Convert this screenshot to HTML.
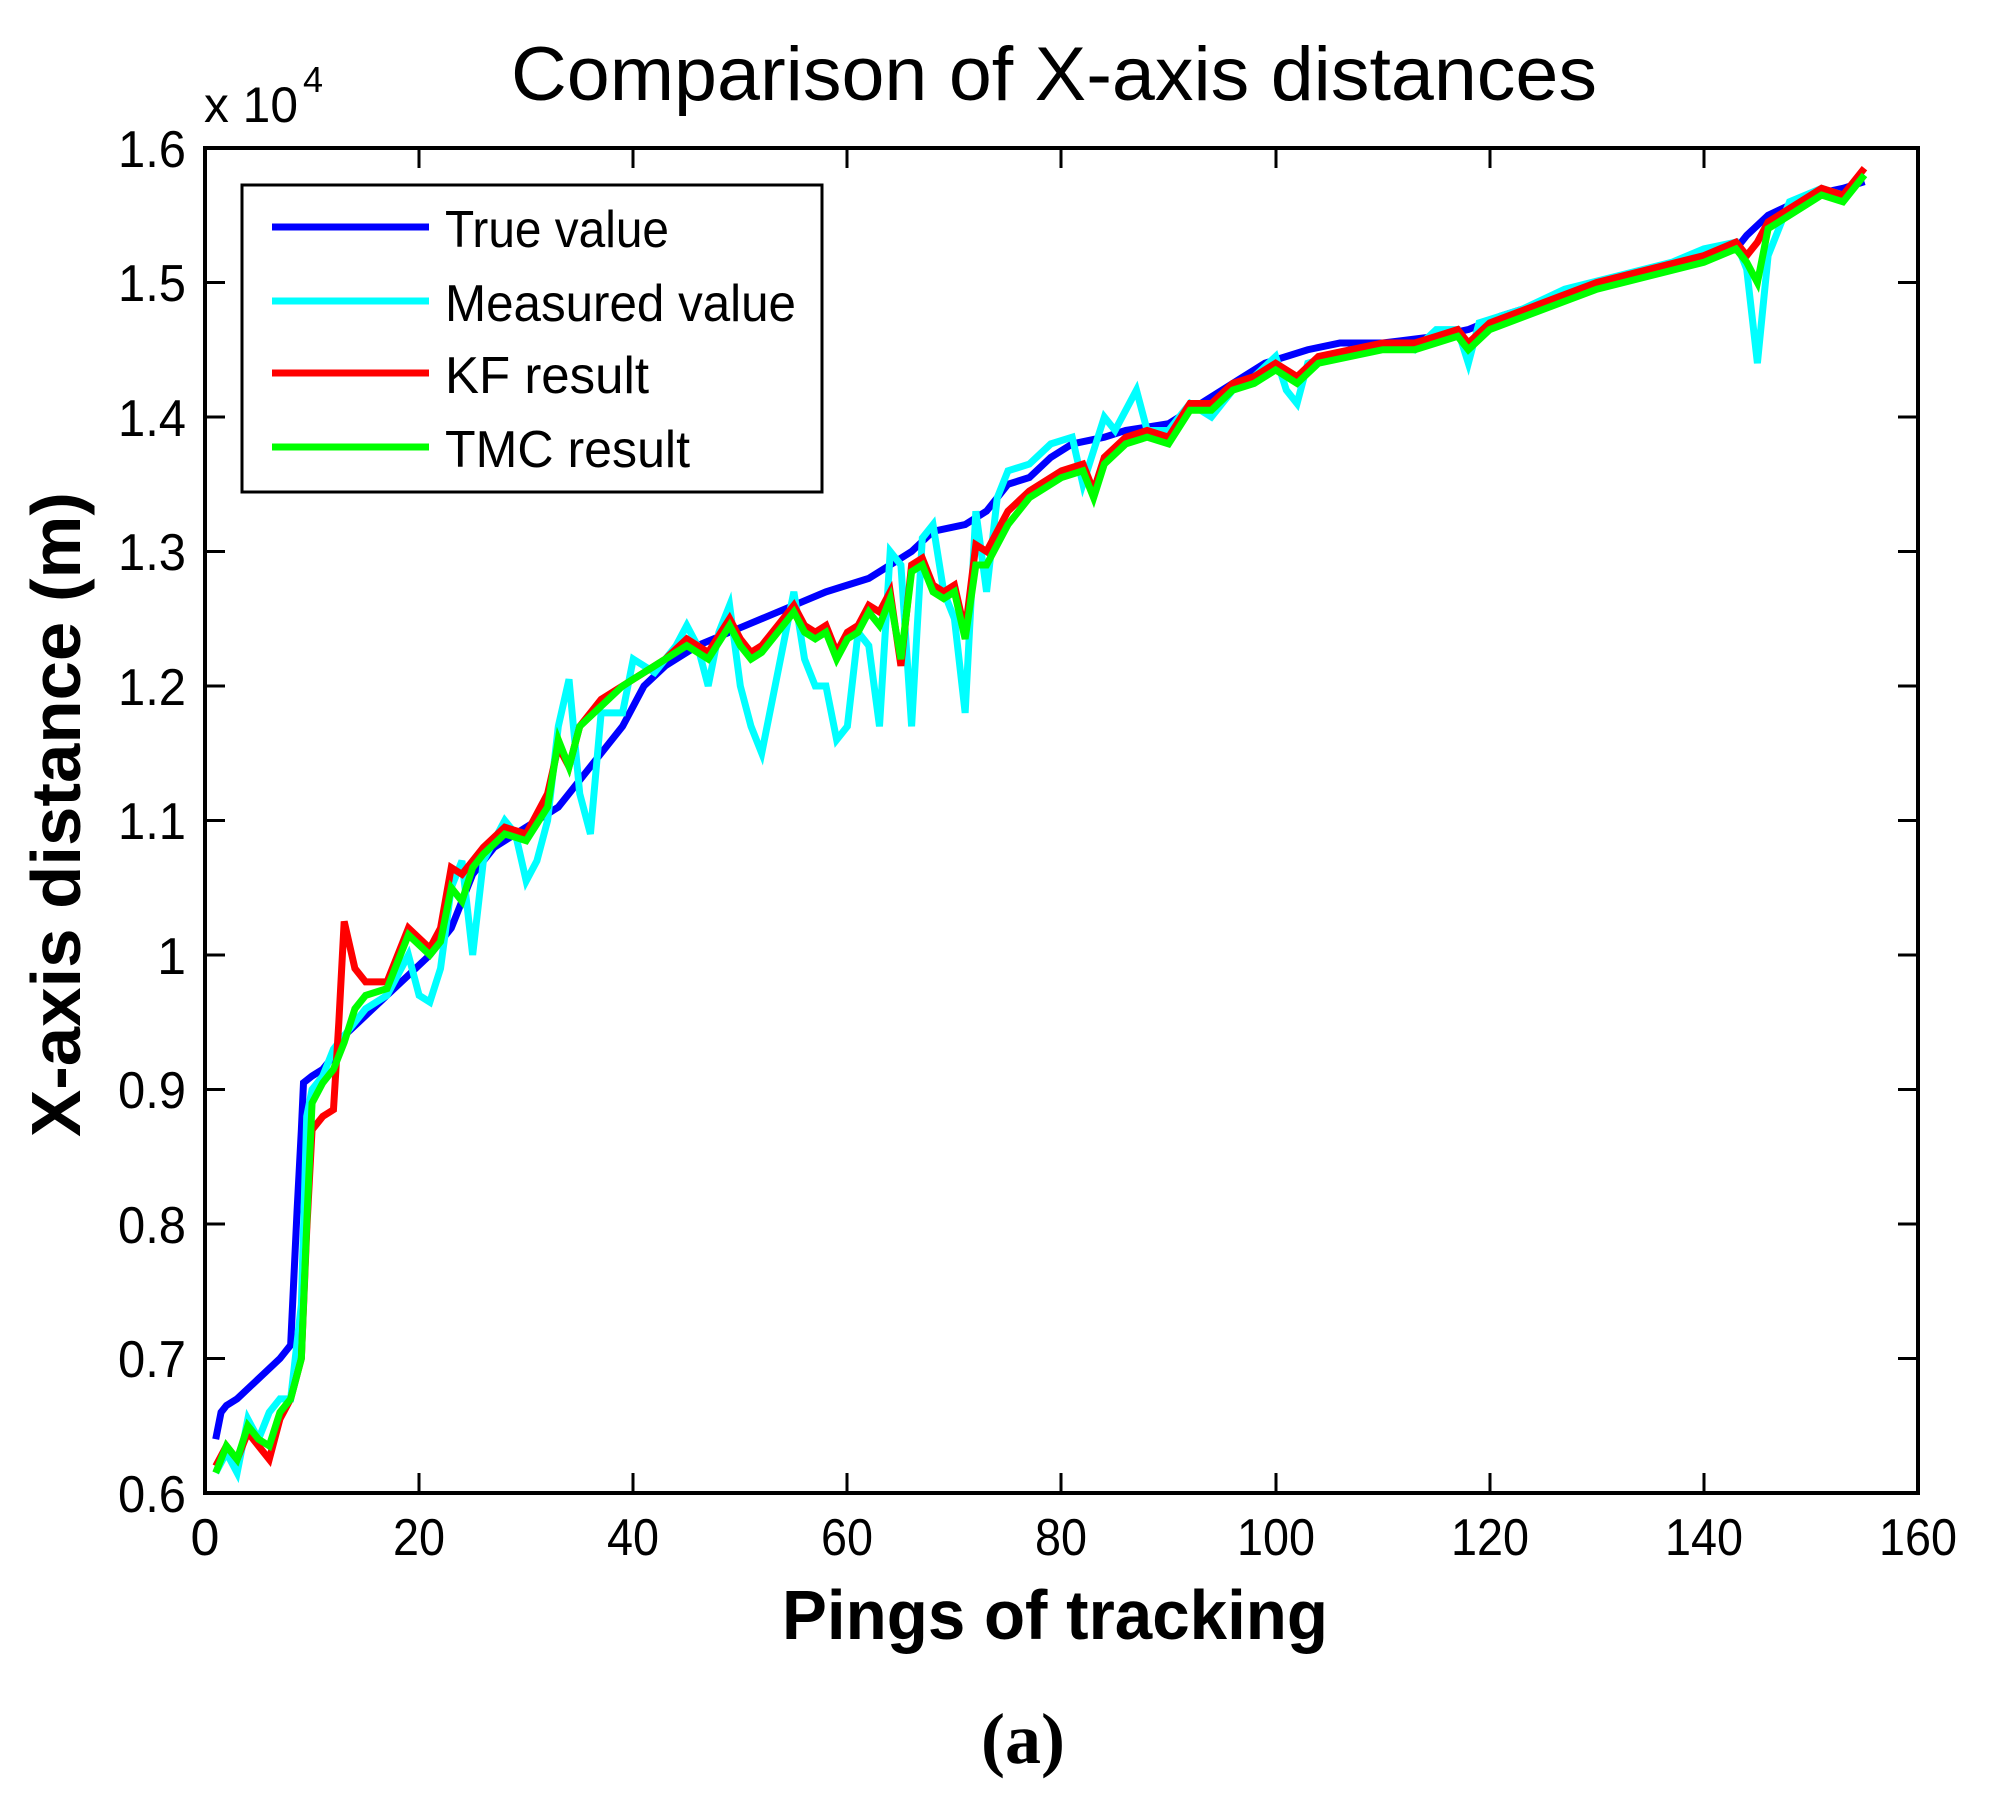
<!DOCTYPE html>
<html><head><meta charset="utf-8"><style>
html,body{margin:0;padding:0;background:#fff;}
svg{display:block;}
text{font-family:"Liberation Sans",sans-serif;fill:#000;}
</style></head><body>
<svg width="2003" height="1794" viewBox="0 0 2003 1794" xmlns="http://www.w3.org/2000/svg">
<rect x="0" y="0" width="2003" height="1794" fill="#fff"/>
<text x="511" y="100" font-size="76" textLength="1086" lengthAdjust="spacingAndGlyphs">Comparison of X-axis distances</text>
<text x="204" y="122" font-size="50" textLength="94" lengthAdjust="spacingAndGlyphs">x 10</text>
<text x="303" y="92" font-size="36">4</text>

<!-- data -->
<g transform="translate(205,1493) scale(10.70625,-1345)" fill="none" stroke-linejoin="miter">
<polyline vector-effect="non-scaling-stroke" stroke="#0000ff" stroke-width="7" points="1,0.04 1.5,0.06 2,0.065 3,0.07 5,0.085 7,0.1 8,0.11 8.3,0.16 8.6,0.21 9,0.27 9.2,0.305 10,0.31 11,0.315 12,0.325 13,0.34 15,0.355 17,0.37 19,0.385 21,0.4 23,0.42 25,0.46 27,0.48 30,0.495 33,0.51 35,0.53 37,0.55 39,0.57 41,0.6 43,0.615 46,0.63 49,0.64 52,0.65 55,0.66 58,0.67 62,0.68 64,0.69 66,0.7 68,0.715 71,0.72 73,0.73 75,0.75 77,0.755 79,0.77 81,0.78 84,0.785 86,0.79 90,0.795 93,0.81 96,0.825 99,0.84 101,0.845 103,0.85 106,0.855 110,0.855 115,0.86 118,0.865 121,0.875 125,0.885 130,0.9 135,0.91 140,0.92 143,0.925 144,0.935 146,0.95 150,0.965 153,0.97 155,0.975"/>
<polyline vector-effect="non-scaling-stroke" stroke="#00ffff" stroke-width="7" points="1,0.015 2,0.03 3,0.015 4,0.055 5,0.04 6,0.06 7,0.07 8,0.07 9,0.14 9.5,0.28 10,0.3 11,0.31 12,0.33 13,0.34 15,0.36 17,0.37 19,0.4 20,0.37 21,0.365 22,0.39 23,0.45 24,0.47 25,0.4 26,0.47 28,0.5 29,0.49 30,0.455 31,0.47 32,0.5 33,0.57 34,0.605 35,0.52 36,0.49 37,0.58 39,0.58 40,0.62 42,0.61 44,0.63 45,0.645 46,0.63 47,0.6 48,0.64 49,0.66 50,0.6 51,0.57 52,0.55 53,0.59 55,0.67 56,0.62 57,0.6 58,0.6 59,0.56 60,0.57 61,0.64 62,0.63 63,0.57 64,0.7 65,0.69 66,0.57 67,0.71 68,0.72 69,0.67 70,0.65 71,0.58 72,0.73 73,0.67 74,0.74 75,0.76 77,0.765 79,0.78 81,0.785 82,0.75 84,0.8 85,0.79 87,0.82 88,0.79 90,0.79 92,0.81 94,0.8 96,0.82 98,0.83 100,0.845 101,0.82 102,0.81 103,0.84 107,0.85 111,0.855 113,0.85 115,0.865 117,0.865 118,0.84 119,0.87 123,0.88 127,0.895 132,0.905 137,0.915 140,0.925 143,0.93 144,0.91 145,0.84 146,0.92 148,0.96 151,0.97 153,0.965 155,0.98"/>
<polyline vector-effect="non-scaling-stroke" stroke="#ff0000" stroke-width="7" points="1,0.02 2,0.035 3,0.025 4,0.045 5,0.035 6,0.025 7,0.055 8,0.07 9,0.1 9.5,0.195 10,0.27 11,0.28 12,0.285 12.5,0.35 13,0.425 14,0.39 15,0.38 17,0.38 19,0.42 21,0.405 22,0.42 23,0.465 24,0.46 26,0.48 28,0.495 30,0.49 32,0.52 33,0.555 34,0.54 35,0.57 37,0.59 39,0.6 41,0.61 43,0.62 45,0.635 47,0.625 49,0.65 50,0.635 51,0.625 52,0.63 54,0.65 55,0.66 56,0.645 57,0.64 58,0.645 59,0.625 60,0.64 61,0.645 62,0.66 63,0.655 64,0.67 65,0.615 66,0.69 67,0.695 68,0.675 69,0.67 70,0.675 71,0.64 72,0.705 73,0.7 75,0.73 77,0.745 80,0.76 82,0.765 83,0.745 84,0.77 86,0.785 88,0.79 90,0.785 92,0.81 94,0.81 96,0.825 98,0.83 100,0.84 102,0.83 104,0.845 110,0.855 113,0.855 115,0.86 117,0.865 118,0.855 120,0.87 125,0.885 130,0.9 135,0.91 140,0.92 143,0.93 144,0.92 145,0.93 146,0.945 149,0.96 151,0.97 153,0.965 155,0.985"/>
<polyline vector-effect="non-scaling-stroke" stroke="#00ff00" stroke-width="7" points="1,0.015 2,0.035 3,0.025 4,0.05 5,0.04 6,0.035 7,0.06 8,0.07 9,0.1 9.5,0.2 10,0.29 11,0.305 12,0.315 13,0.335 14,0.36 15,0.37 17,0.375 19,0.415 21,0.4 22,0.41 23,0.45 24,0.44 25,0.465 26,0.475 28,0.49 30,0.485 32,0.51 33,0.56 34,0.54 35,0.57 37,0.585 39,0.6 41,0.61 43,0.62 45,0.63 47,0.62 49,0.645 50,0.63 51,0.62 52,0.625 54,0.645 55,0.655 56,0.64 57,0.635 58,0.64 59,0.62 60,0.635 61,0.64 62,0.655 63,0.645 64,0.665 65,0.62 66,0.685 67,0.69 68,0.67 69,0.665 70,0.67 71,0.635 72,0.69 73,0.69 75,0.72 77,0.74 80,0.755 82,0.76 83,0.74 84,0.765 86,0.78 88,0.785 90,0.78 92,0.805 94,0.805 96,0.82 98,0.825 100,0.835 102,0.825 104,0.84 110,0.85 113,0.85 115,0.855 117,0.86 118,0.85 120,0.865 125,0.88 130,0.895 135,0.905 140,0.915 143,0.925 144,0.915 145,0.9 146,0.94 149,0.955 151,0.965 153,0.96 155,0.98"/>
</g>

<!-- axes box -->
<rect x="205" y="148" width="1713" height="1345" fill="none" stroke="#000" stroke-width="4"/>
<g stroke="#000" stroke-width="3">
<!-- x ticks bottom & top -->
<path d="M419,1493v-20M633,1493v-20M847,1493v-20M1061,1493v-20M1276,1493v-20M1490,1493v-20M1704,1493v-20
M419,148v20M633,148v20M847,148v20M1061,148v20M1276,148v20M1490,148v20M1704,148v20"/>
<!-- y ticks left & right -->
<path d="M205,1358.5h20M205,1224h20M205,1089.5h20M205,955h20M205,820.5h20M205,686h20M205,551.5h20M205,417h20M205,282.5h20
M1918,1358.5h-20M1918,1224h-20M1918,1089.5h-20M1918,955h-20M1918,820.5h-20M1918,686h-20M1918,551.5h-20M1918,417h-20M1918,282.5h-20"/>
</g>

<!-- y tick labels -->
<g font-size="52" text-anchor="end">
<text x="186" y="1512" textLength="68" lengthAdjust="spacingAndGlyphs">0.6</text>
<text x="186" y="1377" textLength="68" lengthAdjust="spacingAndGlyphs">0.7</text>
<text x="186" y="1243" textLength="68" lengthAdjust="spacingAndGlyphs">0.8</text>
<text x="186" y="1108" textLength="68" lengthAdjust="spacingAndGlyphs">0.9</text>
<text x="186" y="974">1</text>
<text x="186" y="839" textLength="68" lengthAdjust="spacingAndGlyphs">1.1</text>
<text x="186" y="705" textLength="68" lengthAdjust="spacingAndGlyphs">1.2</text>
<text x="186" y="570" textLength="68" lengthAdjust="spacingAndGlyphs">1.3</text>
<text x="186" y="436" textLength="68" lengthAdjust="spacingAndGlyphs">1.4</text>
<text x="186" y="301" textLength="68" lengthAdjust="spacingAndGlyphs">1.5</text>
<text x="186" y="167" textLength="68" lengthAdjust="spacingAndGlyphs">1.6</text>
</g>
<!-- x tick labels -->
<g font-size="52" text-anchor="middle">
<text x="205" y="1555">0</text>
<text x="419" y="1555" textLength="52" lengthAdjust="spacingAndGlyphs">20</text>
<text x="633" y="1555" textLength="52" lengthAdjust="spacingAndGlyphs">40</text>
<text x="847" y="1555" textLength="52" lengthAdjust="spacingAndGlyphs">60</text>
<text x="1061" y="1555" textLength="52" lengthAdjust="spacingAndGlyphs">80</text>
<text x="1276" y="1555" textLength="78" lengthAdjust="spacingAndGlyphs">100</text>
<text x="1490" y="1555" textLength="78" lengthAdjust="spacingAndGlyphs">120</text>
<text x="1704" y="1555" textLength="78" lengthAdjust="spacingAndGlyphs">140</text>
<text x="1918" y="1555" textLength="78" lengthAdjust="spacingAndGlyphs">160</text>
</g>

<text x="782" y="1639" font-size="70" font-weight="bold" textLength="546" lengthAdjust="spacingAndGlyphs">Pings of tracking</text>
<text transform="translate(80,1137) rotate(-90)" x="0" y="0" font-size="70" font-weight="bold" textLength="645" lengthAdjust="spacingAndGlyphs">X-axis distance (m)</text>
<text x="1023" y="1763" font-size="72" font-weight="bold" text-anchor="middle" style="font-family:'Liberation Serif',serif">(a)</text>

<!-- legend -->
<rect x="242" y="185" width="580" height="307" fill="#fff" stroke="#000" stroke-width="3"/>
<g stroke-width="7">
<line x1="272" y1="227" x2="429" y2="227" stroke="#0000ff"/>
<line x1="272" y1="301" x2="429" y2="301" stroke="#00ffff"/>
<line x1="272" y1="373" x2="429" y2="373" stroke="#ff0000"/>
<line x1="272" y1="447" x2="429" y2="447" stroke="#00ff00"/>
</g>
<g font-size="52">
<text x="445" y="247" textLength="224" lengthAdjust="spacingAndGlyphs">True value</text>
<text x="445" y="321" textLength="351" lengthAdjust="spacingAndGlyphs">Measured value</text>
<text x="445" y="393" textLength="204" lengthAdjust="spacingAndGlyphs">KF result</text>
<text x="445" y="467" textLength="245" lengthAdjust="spacingAndGlyphs">TMC result</text>
</g>
</svg>
</body></html>
